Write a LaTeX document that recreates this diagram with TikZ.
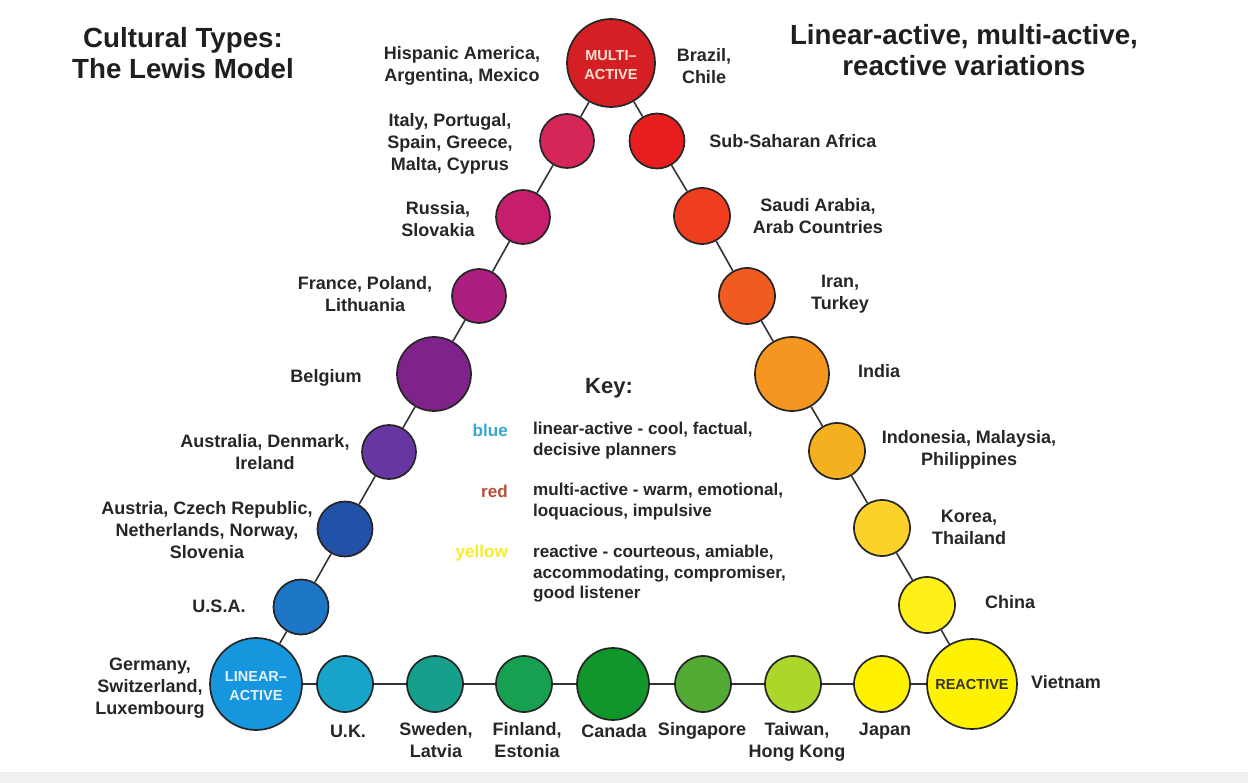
\documentclass[tikz,border=0pt]{standalone}
\usepackage{fontspec}
\setmainfont{Liberation Sans}
\begin{document}
\begin{tikzpicture}[x=1pt,y=-1pt,
  ball/.style={circle,draw=black!85,line width=1.7pt,inner sep=0pt},
  lbl/.style={align=center,text=black!85,font=\bfseries\fontsize{18}{22}\selectfont,inner sep=0pt},
  ttl/.style={align=center,text=black!88,font=\bfseries\fontsize{27.7}{31}\selectfont,inner sep=0pt},
  intxt/.style={align=center,font=\bfseries\fontsize{14.5}{19}\selectfont},
  keytxt/.style={align=left,anchor=west,text=black!85,font=\bfseries\fontsize{17.1}{20.7}\selectfont,inner sep=0pt},
  keycol/.style={anchor=east,font=\bfseries\fontsize{17.1}{20.7}\selectfont,inner sep=0pt},
  conn/.style={draw=black!80,line width=1.6pt}]
\definecolor{cMA}{RGB}{212,32,36}
\definecolor{cIT}{RGB}{214,38,88}
\definecolor{cRU}{RGB}{198,30,108}
\definecolor{cFR}{RGB}{172,30,128}
\definecolor{cBE}{RGB}{128,34,140}
\definecolor{cAU}{RGB}{104,54,162}
\definecolor{cAT}{RGB}{34,82,168}
\definecolor{cUS}{RGB}{30,118,198}
\definecolor{cLA}{RGB}{22,150,220}
\definecolor{cUK}{RGB}{24,164,202}
\definecolor{cSW}{RGB}{22,160,140}
\definecolor{cFI}{RGB}{24,160,82}
\definecolor{cCA}{RGB}{16,150,42}
\definecolor{cSG}{RGB}{82,170,52}
\definecolor{cTW}{RGB}{172,214,42}
\definecolor{cJP}{RGB}{255,242,0}
\definecolor{cRE}{RGB}{255,242,0}
\definecolor{cCN}{RGB}{255,240,24}
\definecolor{cKO}{RGB}{250,210,42}
\definecolor{cID}{RGB}{245,176,32}
\definecolor{cIN}{RGB}{245,150,32}
\definecolor{cIR}{RGB}{240,92,32}
\definecolor{cSA}{RGB}{238,62,30}
\definecolor{cSS}{RGB}{232,30,30}
\definecolor{cKblue}{RGB}{58,166,208}
\definecolor{cKred}{RGB}{180,80,58}
\definecolor{cKyel}{RGB}{248,236,40}
\useasboundingbox (0,0) rectangle (1248,783);
\fill[white] (0,0) rectangle (1248,783);
\fill[black!6] (0,772) rectangle (1248,783);
% circles
\node[ball,fill=cMA,minimum size=88pt] (ma) at (611,63) {};
\node[intxt,text={rgb,255:red,250;green,225;blue,210}] at (611,65) {MULTI--\\ACTIVE};
\node[ball,fill=cIT,minimum size=54pt] (it) at (567,141) {};
\node[ball,fill=cRU,minimum size=54pt] (ru) at (523,217) {};
\node[ball,fill=cFR,minimum size=54pt] (fr) at (479,296) {};
\node[ball,fill=cBE,minimum size=74pt] (be) at (434,374) {};
\node[ball,fill=cAU,minimum size=54pt] (au) at (389,452) {};
\node[ball,fill=cAT,minimum size=55pt] (at) at (345,529) {};
\node[ball,fill=cUS,minimum size=55pt] (us) at (301,607) {};
\node[ball,fill=cLA,minimum size=92pt] (la) at (256,684) {};
\node[intxt,text={rgb,255:red,230;green,242;blue,255}] at (256,686) {LINEAR--\\ACTIVE};
\node[ball,fill=cUK,minimum size=56pt] (uk) at (345,684) {};
\node[ball,fill=cSW,minimum size=56pt] (sw) at (435,684) {};
\node[ball,fill=cFI,minimum size=56pt] (fi) at (524,684) {};
\node[ball,fill=cCA,minimum size=72pt] (ca) at (613,684) {};
\node[ball,fill=cSG,minimum size=56pt] (sg) at (703,684) {};
\node[ball,fill=cTW,minimum size=56pt] (tw) at (793,684) {};
\node[ball,fill=cJP,minimum size=56pt] (jp) at (882,684) {};
\node[ball,fill=cRE,minimum size=90pt] (re) at (972,684) {};
\node[intxt,text=black!80] at (972,685) {REACTIVE};
\node[ball,fill=cCN,minimum size=56pt] (cn) at (927,605) {};
\node[ball,fill=cKO,minimum size=56pt] (ko) at (882,528) {};
\node[ball,fill=cID,minimum size=56pt] (id) at (837,451) {};
\node[ball,fill=cIN,minimum size=74pt] (in) at (792,374) {};
\node[ball,fill=cIR,minimum size=56pt] (ir) at (747,296) {};
\node[ball,fill=cSA,minimum size=56pt] (sa) at (702,216) {};
\node[ball,fill=cSS,minimum size=55pt] (ss) at (657,141) {};
% connectors
\draw[conn] (ma)--(it); \draw[conn] (it)--(ru); \draw[conn] (ru)--(fr);
\draw[conn] (fr)--(be); \draw[conn] (be)--(au); \draw[conn] (au)--(at);
\draw[conn] (at)--(us); \draw[conn] (us)--(la);
\draw[conn] (la)--(uk); \draw[conn] (uk)--(sw); \draw[conn] (sw)--(fi);
\draw[conn] (fi)--(ca); \draw[conn] (ca)--(sg); \draw[conn] (sg)--(tw);
\draw[conn] (tw)--(jp); \draw[conn] (jp)--(re);
\draw[conn] (ma)--(ss); \draw[conn] (ss)--(sa); \draw[conn] (sa)--(ir);
\draw[conn] (ir)--(in); \draw[conn] (in)--(id); \draw[conn] (id)--(ko);
\draw[conn] (ko)--(cn); \draw[conn] (cn)--(re);
% titles
\node[ttl] (t1) at (183,53) {Cultural Types:\\The Lewis Model};
\node[ttl] (t2) at (964,50) {Linear-active, multi-active,\\reactive variations};
% labels
\node[lbl] (l1) at (462,66) {Hispanic America,\\Argentina, Mexico};
\node[lbl] (l2) at (704,66) {Brazil,\\Chile};
\node[lbl] (l3) at (450,144) {Italy, Portugal,\\Spain, Greece,\\Malta, Cyprus};
\node[lbl] (l4) at (793,141) {Sub-Saharan Africa};
\node[lbl] (l5) at (438,219) {Russia,\\Slovakia};
\node[lbl] (l6) at (818,216) {Saudi Arabia,\\Arab Countries};
\node[lbl] (l7) at (365,294) {France, Poland,\\Lithuania};
\node[lbl] (l8) at (840,294) {Iran,\\Turkey};
\node[lbl] (l9) at (326,378) {Belgium};
\node[lbl] (l10) at (879,371) {India};
\node[lbl] (l11) at (265,452) {Australia, Denmark,\\Ireland};
\node[lbl] (l12) at (969,450) {Indonesia, Malaysia,\\Philippines};
\node[lbl] (l13) at (207,530) {Austria, Czech Republic,\\Netherlands, Norway,\\Slovenia};
\node[lbl] (l14) at (969,527) {Korea,\\Thailand};
\node[lbl] (l15) at (219,606) {U.S.A.};
\node[lbl] (l16) at (1010,602) {China};
\node[lbl] (l17) at (150,688) {Germany,\\Switzerland,\\Luxembourg};
\node[lbl] (l18) at (1066,682) {Vietnam};
\node[lbl] (l19) at (348,731) {U.K.};
\node[lbl,anchor=north] (l20) at (436,722) {Sweden,\\Latvia};
\node[lbl,anchor=north] (l21) at (527,722) {Finland,\\Estonia};
\node[lbl] (l22) at (614,731) {Canada};
\node[lbl] (l23) at (702,731) {Singapore};
\node[lbl,anchor=north] (l24) at (797,722) {Taiwan,\\Hong Kong};
\node[lbl] (l25) at (885,731) {Japan};
% key
\node[font=\bfseries\fontsize{22}{26}\selectfont,text=black!85] (key) at (609,388) {Key:};
\node[keycol,text=cKblue] (kb) at (508,430) {blue};
\node[keytxt,anchor=north west] (kbt) at (533,422) {linear-active - cool, factual,\\decisive planners};
\node[keycol,text=cKred] (kr) at (508,491) {red};
\node[keytxt,anchor=north west] (krt) at (533,483) {multi-active - warm, emotional,\\loquacious, impulsive};
\node[keycol,text=cKyel] (ky) at (508,553) {yellow};
\node[keytxt,anchor=north west] (kyt) at (533,545) {reactive - courteous, amiable,\\accommodating, compromiser,\\good listener};
\end{tikzpicture}
\end{document}
